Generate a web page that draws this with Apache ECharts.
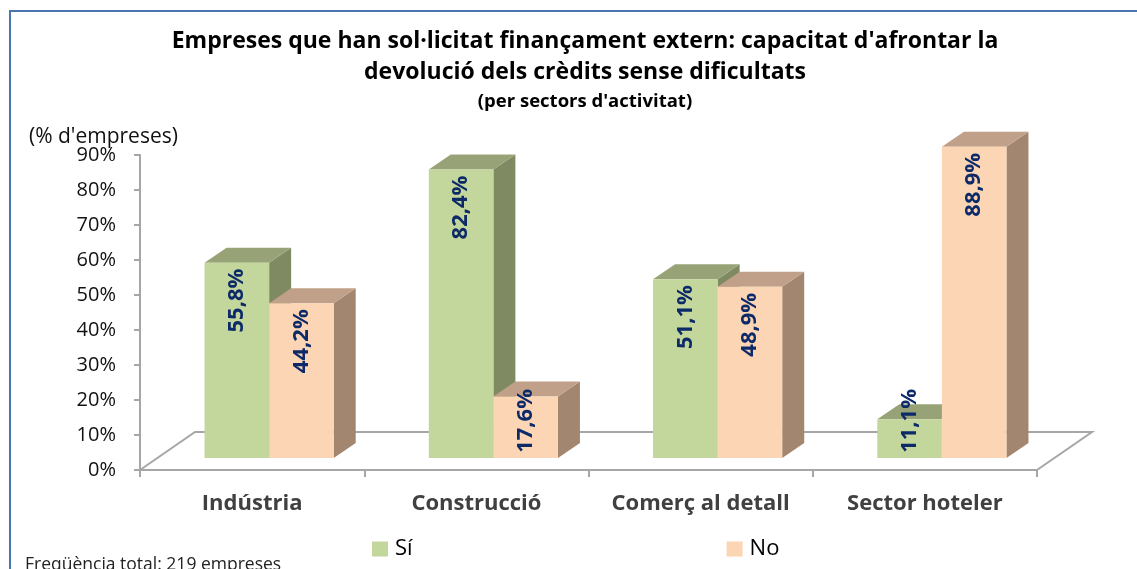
<!DOCTYPE html>
<html>
<head>
<meta charset="utf-8">
<script src="https://cdn.jsdelivr.net/npm/echarts@6/dist/echarts.min.js"></script>
<style>
html,body{margin:0;padding:0;background:#fff;}
#chart{width:1137px;height:569px;}
</style>
</head>
<body>
<div id="chart"></div>
<script>
// ---- data ----
const categories = ['Indústria', 'Construcció', 'Comerç al detall', 'Sector hoteler'];
const seriesNames = ['Sí', 'No'];
const valuesSi = [55.8, 82.4, 51.1, 11.1];
const valuesNo = [44.2, 17.6, 48.9, 88.9];
const yTicks = { min: 0, max: 90, interval: 10 };
const titleLines = ["Empreses que han sol·licitat finançament extern: capacitat d'afrontar la", "devolució dels crèdits sense dificultats"];
const subtitle = "(per sectors d'activitat)";
const yName = "(% d'empreses)";
const footer = "Freqüència total: 219 empreses";

// ---- style ----
const FONT = '"Open Sans", "DejaVu Sans", sans-serif';
const colors = {
  si: { front: '#C3D69B', top: '#97A377', side: '#7F8A62' },
  no: { front: '#FCD5B5', top: '#C0A088', side: '#A3866F' }
};
const FLOOR_DEPTH = [55, -38];
const BAR_OFFSET = [17, -12];
const BAR_DEPTH = [22, -15];
const BAR_RATIO = 0.288;

function fmt(v) { return v.toFixed(1).replace('.', ',') + '%'; }

function barRender(sideIdx, pal) {
  return function (params, api) {
    const ci = api.value(0), v = api.value(1);
    const base = api.coord([ci, 0]);
    const top = api.coord([ci, v]);
    const bandW = api.size([1, 0])[0];
    const w = bandW * BAR_RATIO;
    const x0 = (sideIdx === 0 ? base[0] - w : base[0]) + BAR_OFFSET[0];
    const yb = base[1] + BAR_OFFSET[1];
    const yt = top[1] + BAR_OFFSET[1];
    const dx = BAR_DEPTH[0], dy = BAR_DEPTH[1];
    const label = fmt(v);
    const textLen = 66;
    let textTop = yt + 6;
    if (textTop + textLen > yb - 3) textTop = yb - 3 - textLen;
    return {
      type: 'group',
      children: [
        { type: 'polygon', shape: { points: [[x0 + w, yt], [x0 + w + dx, yt + dy], [x0 + w + dx, yb + dy], [x0 + w, yb]] }, style: { fill: pal.side } },
        { type: 'polygon', shape: { points: [[x0, yt], [x0 + w, yt], [x0 + w + dx, yt + dy], [x0 + dx, yt + dy]] }, style: { fill: pal.top } },
        { type: 'rect', shape: { x: x0, y: yt, width: w, height: yb - yt }, style: { fill: pal.front } },
        { type: 'text', x: x0 + w / 2, y: textTop, rotation: Math.PI / 2, z2: 10,
          style: { text: label, fill: '#0D2A68', font: 'bold 22px ' + FONT, align: 'right', verticalAlign: 'middle' } }
      ]
    };
  };
}

function floorRender(params, api) {
  const cs = params.coordSys;
  const x = cs.x, y = cs.y + cs.height, w = cs.width;
  const dx = FLOOR_DEPTH[0], dy = FLOOR_DEPTH[1];
  return {
    type: 'polyline',
    shape: { points: [[x, y], [x + dx, y + dy], [x + w + dx, y + dy], [x + w, y]] },
    style: { stroke: '#A6A6A6', lineWidth: 2, fill: null }
  };
}

const chart = echarts.init(document.getElementById('chart'), null, { renderer: 'canvas' });
chart.setOption({
  backgroundColor: '#fff',
  animation: false,
  title: {
    text: titleLines.join('\n'),
    subtext: subtitle,
    left: 580, textAlign: 'center', top: 21, itemGap: 4,
    textStyle: { fontFamily: FONT, fontWeight: 'bold', fontSize: 23, lineHeight: 31, color: '#000' },
    subtextStyle: { fontFamily: FONT, fontWeight: 'bold', fontSize: 18.5, color: '#000' }
  },
  legend: {
    data: seriesNames,
    left: 367, top: 533,
    itemWidth: 16, itemHeight: 15, itemGap: 314,
    icon: 'rect',
    textStyle: { fontFamily: FONT, fontSize: 22, color: '#000', padding: [0, 0, 0, 2] }
  },
  grid: { left: 140, top: 155, width: 897, height: 315 },
  xAxis: {
    type: 'category', data: categories,
    axisLine: { lineStyle: { color: '#A6A6A6', width: 2 } },
    axisTick: { show: true, length: 7, lineStyle: { color: '#A6A6A6', width: 2 } },
    axisLabel: { interval: 0, fontFamily: FONT, fontWeight: 'bold', fontSize: 22, color: '#404040', margin: 23 }
  },
  yAxis: {
    type: 'value', min: yTicks.min, max: yTicks.max, interval: yTicks.interval,
    axisLine: { show: true, lineStyle: { color: '#A6A6A6', width: 2 } },
    axisTick: { show: true, length: 6, lineStyle: { color: '#A6A6A6', width: 2 } },
    splitLine: { show: false },
    axisLabel: { fontFamily: FONT, fontSize: 20, color: '#111', margin: 24, formatter: '{value}%' }
  },
  graphic: [
    { type: 'rect', shape: { x: 10, y: 11, width: 1400, height: 900 }, style: { fill: null, stroke: '#4A75B0', lineWidth: 2 }, silent: true },
    { type: 'text', x: 29, y: 137, style: { text: yName, font: '21px ' + FONT, fill: '#111', verticalAlign: 'middle' } },
    { type: 'text', x: 25, y: 556, style: { text: footer, font: '17.5px ' + FONT, fill: '#222', verticalAlign: 'top' } }
  ],
  series: [
    { type: 'custom', name: 'floor', silent: true, renderItem: floorRender, data: [[0, 0]], z: 1 },
    { type: 'custom', name: seriesNames[0], itemStyle: { color: colors.si.front }, renderItem: barRender(0, colors.si),
      data: valuesSi.map((v, i) => [i, v]), encode: { x: 0, y: 1 }, z: 2 },
    { type: 'custom', name: seriesNames[1], itemStyle: { color: colors.no.front }, renderItem: barRender(1, colors.no),
      data: valuesNo.map((v, i) => [i, v]), encode: { x: 0, y: 1 }, z: 3 }
  ]
});
</script>
</body>
</html>
